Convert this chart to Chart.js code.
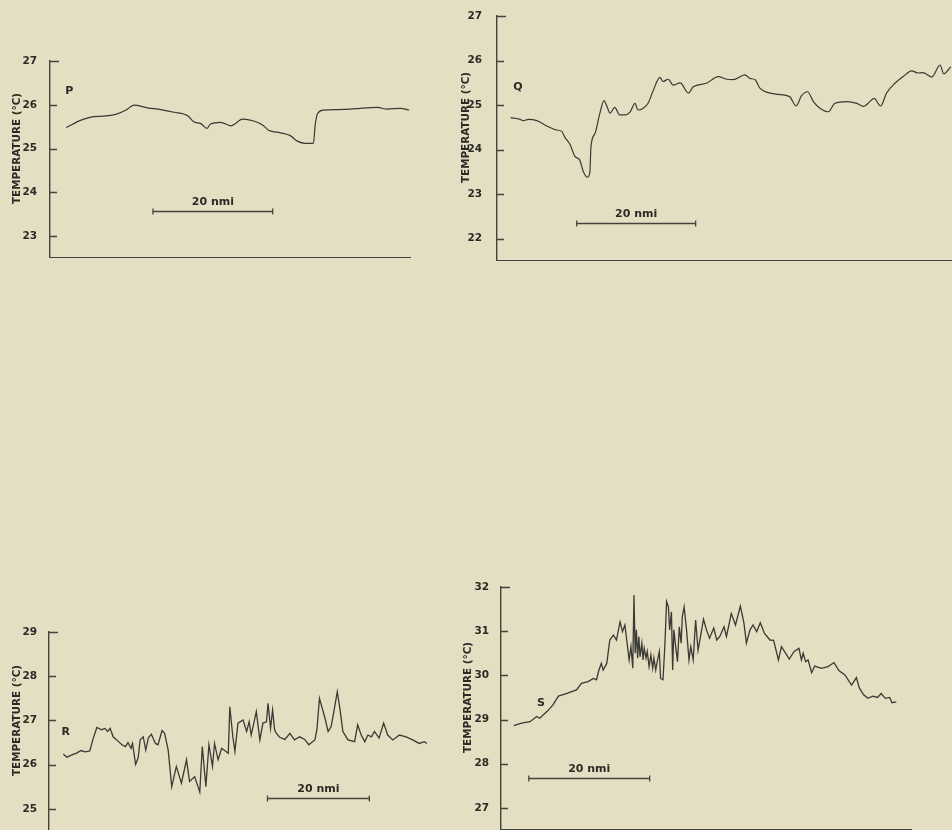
<!DOCTYPE html>
<html>
<head>
<meta charset="utf-8">
<title>Temperature traces P, Q, R, S</title>
<script src="https://cdn.jsdelivr.net/npm/chart.js@4.4.1/dist/chart.umd.min.js"></script>
<style>
  html, body { margin: 0; padding: 0; width: 952px; height: 830px; overflow: hidden; background: #e4dec3; }
  .panel { position: absolute; }
</style>
</head>
<body>
<div class="panel" style="left:0px; top:51px; width:411px; height:207px;"><canvas id="chartP"></canvas></div>
<div class="panel" style="left:447px; top:6px; width:505px; height:255px;"><canvas id="chartQ"></canvas></div>
<div class="panel" style="left:0px; top:622px; width:431px; height:209px;"><canvas id="chartR"></canvas></div>
<div class="panel" style="left:451px; top:577px; width:461px; height:253px;"><canvas id="chartS"></canvas></div>
<script>
// distance along track (nmi) and sea surface temperature (deg C)
const pDist = [2.7, 5.2, 7.3, 9.0, 11.0, 12.7, 14.0, 16.3, 18.5, 20.7, 23.0, 24.0, 25.2, 26.2, 26.8, 28.5, 30.2, 32.2, 34.0, 35.5,
  36.5, 38.5, 40.2, 41.3, 42.7, 44.0, 44.3, 44.7, 45.7, 48.0, 50.2, 51.8, 54.7, 56.3, 58.5, 60.0];
const pTemp = [25.48, 25.65, 25.73, 25.74, 25.78, 25.88, 25.99, 25.93, 25.89, 25.83, 25.75, 25.61, 25.57, 25.46, 25.56, 25.60, 25.52, 25.67, 25.63, 25.54,
  25.42, 25.36, 25.29, 25.17, 25.12, 25.12, 25.54, 25.80, 25.88, 25.89, 25.90, 25.92, 25.94, 25.90, 25.92, 25.88];

const qDist = [2.3, 3.9, 4.4, 5.3, 6.7, 8.4, 10.0, 10.9, 11.4, 12.3, 13.1, 13.9, 14.5, 15.2, 15.6, 15.8, 16.5, 17.3, 18.0, 18.4,
  19.0, 19.8, 20.6, 21.5, 22.4, 23.2, 23.7, 24.6, 25.4, 26.3, 27.4, 27.9, 28.8, 29.6, 30.8, 32.2, 33.0, 35.2, 37.2, 38.6,
  39.7, 41.7, 42.5, 43.4, 44.2, 45.6, 47.3, 49.2, 50.3, 51.2, 52.2, 53.2, 54.3, 55.7, 56.8, 58.8, 60.5, 61.6, 62.4, 63.4,
  64.5, 65.5, 66.9, 68.3, 69.7, 70.8, 71.6, 73.1, 74.5, 75.1, 76.3];
const qTemp = [24.72, 24.68, 24.65, 24.68, 24.65, 24.53, 24.44, 24.41, 24.28, 24.11, 23.85, 23.77, 23.51, 23.38, 23.47, 24.07, 24.37, 24.82, 25.10, 25.00,
  24.82, 24.95, 24.78, 24.78, 24.85, 25.04, 24.89, 24.93, 25.04, 25.34, 25.62, 25.53, 25.58, 25.45, 25.50, 25.27, 25.41, 25.49, 25.64, 25.58,
  25.57, 25.68, 25.60, 25.57, 25.38, 25.28, 25.24, 25.19, 24.98, 25.21, 25.30, 25.08, 24.93, 24.85, 25.04, 25.08, 25.04, 24.97, 25.04, 25.15,
  24.98, 25.27, 25.49, 25.64, 25.77, 25.72, 25.73, 25.63, 25.90, 25.70, 25.86];

const rDist = [2.8, 3.5, 4.5, 5.4, 6.3, 7.1, 8.0, 8.7, 9.4, 10.3, 11.0, 11.5, 12.0, 12.6, 13.3, 14.3, 15.0, 15.5, 16.1, 16.4,
  17.0, 17.5, 17.9, 18.5, 19.0, 19.5, 20.1, 20.9, 21.4, 22.2, 22.7, 23.4, 24.1, 25.0, 26.0, 27.0, 27.6, 28.6, 29.6, 30.1,
  30.8, 31.4, 32.1, 32.5, 33.2, 33.9, 35.2, 35.5, 36.1, 36.5, 37.1, 38.1, 38.8, 39.3, 39.7, 40.7, 41.4, 42.0, 42.7, 43.0,
  43.5, 43.9, 44.3, 44.6, 45.3, 46.3, 47.3, 48.2, 49.2, 50.2, 51.0, 52.2, 52.6, 53.1, 54.1, 54.8, 55.4, 56.1, 56.6, 57.1,
  57.7, 58.7, 60.0, 60.6, 61.3, 62.0, 62.6, 63.3, 63.9, 64.8, 65.7, 66.5, 67.5, 68.8, 70.1, 71.4, 72.7, 73.7, 74.2];
const rTemp = [26.24, 26.17, 26.22, 26.26, 26.32, 26.29, 26.31, 26.60, 26.84, 26.79, 26.82, 26.75, 26.82, 26.63, 26.56, 26.45, 26.41, 26.50, 26.37, 26.48,
  26.01, 26.15, 26.56, 26.63, 26.33, 26.60, 26.69, 26.48, 26.45, 26.77, 26.71, 26.33, 25.50, 25.96, 25.58, 26.11, 25.62, 25.73, 25.38, 26.41,
  25.50, 26.45, 25.96, 26.48, 26.11, 26.37, 26.26, 27.31, 26.63, 26.30, 26.94, 27.01, 26.75, 26.97, 26.67, 27.20, 26.56, 26.94, 26.97, 27.39,
  26.82, 27.24, 26.79, 26.71, 26.62, 26.57, 26.71, 26.56, 26.63, 26.57, 26.45, 26.56, 26.79, 27.50, 27.09, 26.75, 26.86, 27.31, 27.65, 27.28,
  26.75, 26.56, 26.52, 26.90, 26.67, 26.52, 26.67, 26.63, 26.75, 26.60, 26.94, 26.67, 26.56, 26.67, 26.63, 26.56, 26.48, 26.52, 26.48];

const sDist = [2.1, 3.4, 4.8, 5.9, 6.4, 7.6, 8.6, 9.5, 10.9, 12.5, 13.3, 14.4, 15.3, 15.8, 16.2, 16.6, 16.9, 17.5, 18.0, 18.6,
  19.1, 19.7, 20.1, 20.5, 20.8, 21.2, 21.5, 21.8, 22.0, 22.2, 22.4, 22.6, 22.8, 23.0, 23.3, 23.5, 23.7, 24.0, 24.2, 24.5,
  24.8, 25.1, 25.3, 25.6, 25.9, 26.2, 26.4, 26.8, 27.1, 27.4, 27.7, 27.9, 28.2, 28.4, 28.6, 28.9, 29.2, 29.5, 29.8, 30.0,
  30.3, 30.7, 31.1, 31.4, 31.8, 32.2, 32.6, 33.2, 33.5, 34.0, 34.5, 35.2, 35.7, 36.2, 36.9, 37.3, 38.1, 38.8, 39.6, 40.2,
  40.6, 41.2, 41.7, 42.3, 42.9, 43.6, 44.5, 45.1, 45.9, 46.4, 47.7, 48.5, 49.3, 49.7, 50.0, 50.4, 50.8, 51.4, 51.9, 53.0,
  54.1, 55.1, 55.9, 56.9, 58.0, 58.8, 59.3, 60.0, 60.7, 61.5, 62.3, 62.9, 63.6, 64.3, 64.7, 65.4];
const sTemp = [28.86, 28.92, 28.95, 29.07, 29.03, 29.18, 29.33, 29.53, 29.59, 29.67, 29.82, 29.86, 29.93, 29.90, 30.12, 30.27, 30.12, 30.27, 30.80, 30.91,
  30.80, 31.21, 30.99, 31.14, 30.80, 30.35, 30.65, 30.16, 31.82, 30.50, 31.03, 30.39, 30.88, 30.42, 30.73, 30.35, 30.61, 30.39, 30.54, 30.20,
  30.46, 30.16, 30.39, 30.12, 30.35, 30.54, 29.93, 29.90, 30.65, 31.67, 31.55, 31.03, 31.44, 30.12, 31.03, 30.65, 30.31, 31.10, 30.73, 31.33,
  31.55, 31.03, 30.35, 30.65, 30.35, 31.25, 30.57, 31.03, 31.27, 31.03, 30.84, 31.07, 30.80, 30.88, 31.10, 30.88, 31.40, 31.14, 31.57, 31.18,
  30.73, 31.03, 31.14, 30.99, 31.19, 30.95, 30.80, 30.79, 30.35, 30.65, 30.37, 30.54, 30.61, 30.35, 30.50, 30.31, 30.35, 30.06, 30.21, 30.16,
  30.20, 30.29, 30.11, 30.01, 29.78, 29.95, 29.71, 29.56, 29.48, 29.53, 29.50, 29.59, 29.48, 29.50, 29.38, 29.40];

const pTicks = [23, 24, 25, 26, 27];
const qTicks = [22, 23, 24, 25, 26, 27];
const rTicks = [25, 26, 27, 28, 29];
const sTicks = [27, 28, 29, 30, 31, 32];

const yTitle = 'TEMPERATURE (\u00B0C)';
const barText = '20 nmi';

const INK = '#2c2a26';
const AXIS = '#45433d';
const LINE = '#3b3934';
const FONT = '"DejaVu Sans", sans-serif';

// inward tick marks, letters, 20 nmi bars and the rotated axis title
const panelMarks = {
  id: 'panelMarks',
  afterDraw(chart, args, opts) {
    const { ctx, chartArea, scales: { x, y } } = chart;
    ctx.save();
    ctx.fillStyle = INK;
    ctx.strokeStyle = AXIS;
    ctx.textAlign = 'center';
    ctx.textBaseline = 'middle';

    // ticks point into the plot, the top one a little longer
    ctx.lineWidth = 1.3;
    ctx.beginPath();
    y.ticks.forEach(t => {
      const py = Math.round(y.getPixelForValue(t.value)) + 0.5;
      const len = t.value === y.max ? 9 : 7;
      ctx.moveTo(chartArea.left - 1, py);
      ctx.lineTo(chartArea.left + len, py);
    });
    ctx.stroke();

    ctx.save();
    ctx.font = 'bold 10.4px ' + FONT;
    ctx.translate(opts.titleX, (chartArea.top + chartArea.bottom) / 2 - 11);
    ctx.rotate(-Math.PI / 2);
    ctx.fillText(yTitle, 0, 0);
    ctx.restore();

    ctx.font = 'bold 11px ' + FONT;
    ctx.fillText(opts.letter, x.getPixelForValue(opts.letterAt[0]), y.getPixelForValue(opts.letterAt[1]));

    const x1 = x.getPixelForValue(opts.bar[0]);
    const x2 = x.getPixelForValue(opts.bar[1]);
    const yb = Math.round(y.getPixelForValue(opts.bar[2])) + 0.5;
    ctx.lineWidth = 1.3;
    ctx.beginPath();
    ctx.moveTo(x1, yb); ctx.lineTo(x2, yb);
    ctx.moveTo(x1, yb - 3); ctx.lineTo(x1, yb + 3);
    ctx.moveTo(x2, yb - 3); ctx.lineTo(x2, yb + 3);
    ctx.stroke();
    ctx.fillText(barText, (x1 + x2) / 2, yb - 9.5);
    ctx.restore();
  }
};

function makePanel(id, dist, temp, ticks, cfg) {
  return new Chart(document.getElementById(id), {
    type: 'line',
    data: {
      datasets: [{
        data: dist.map((d, i) => ({ x: d, y: temp[i] })),
        borderColor: LINE,
        borderWidth: cfg.lineWidth,
        pointRadius: 0,
        tension: cfg.tension,
        cubicInterpolationMode: cfg.tension ? 'monotone' : 'default'
      }]
    },
    options: {
      responsive: true,
      maintainAspectRatio: false,
      animation: false,
      layout: { padding: { top: 10, left: 0, right: 0, bottom: 0 } },
      plugins: {
        legend: { display: false },
        tooltip: { enabled: false },
        panelMarks: cfg.marks
      },
      scales: {
        x: {
          type: 'linear',
          min: 0,
          max: cfg.xMax,
          ticks: { display: false },
          grid: { display: false },
          border: { display: true, color: AXIS, width: 1.4 },
          afterFit: s => { s.height = 0; s.paddingLeft = 0; s.paddingRight = 0; }
        },
        y: {
          min: cfg.yMin,
          max: cfg.yMax,
          afterBuildTicks: s => { s.ticks = ticks.map(v => ({ value: v })); },
          // fixed axis box so the plot area lands where the original has it
          afterFit: s => { s.width = cfg.yWidth; s.paddingTop = 0; s.paddingBottom = 0; },
          ticks: {
            color: INK,
            font: { family: FONT, weight: 'bold', size: 10.5 },
            padding: cfg.tickPad
          },
          grid: { display: false },
          border: { display: true, color: AXIS, width: 1.4 }
        }
      }
    },
    plugins: [panelMarks]
  });
}

makePanel('chartP', pDist, pTemp, pTicks, {
  xMax: 60.3, yMin: 22.5, yMax: 27, yWidth: 50, tickPad: 5, lineWidth: 1.2, tension: 0.3,
  marks: { letter: 'P', letterAt: [3.2, 26.31], bar: [17.2, 37.2, 23.57], titleX: 17 }
});
makePanel('chartQ', qDist, qTemp, qTicks, {
  xMax: 76.5, yMin: 21.5, yMax: 27, yWidth: 50, tickPad: 7, lineWidth: 1.2, tension: 0.3,
  marks: { letter: 'Q', letterAt: [3.5, 25.40], bar: [13.4, 33.4, 22.36], titleX: 19 }
});
makePanel('chartR', rDist, rTemp, rTicks, {
  xMax: 75, yMin: 24.5, yMax: 29, yWidth: 49, tickPad: 4, lineWidth: 1.3, tension: 0,
  marks: { letter: 'R', letterAt: [3.3, 26.73], bar: [42.9, 62.9, 25.25], titleX: 17 }
});
makePanel('chartS', sDist, sTemp, sTicks, {
  xMax: 68, yMin: 26.5, yMax: 32, yWidth: 50, tickPad: 4, lineWidth: 1.3, tension: 0,
  marks: { letter: 'S', letterAt: [6.6, 29.36], bar: [4.6, 24.6, 27.68], titleX: 17 }
});
</script>
</body>
</html>
